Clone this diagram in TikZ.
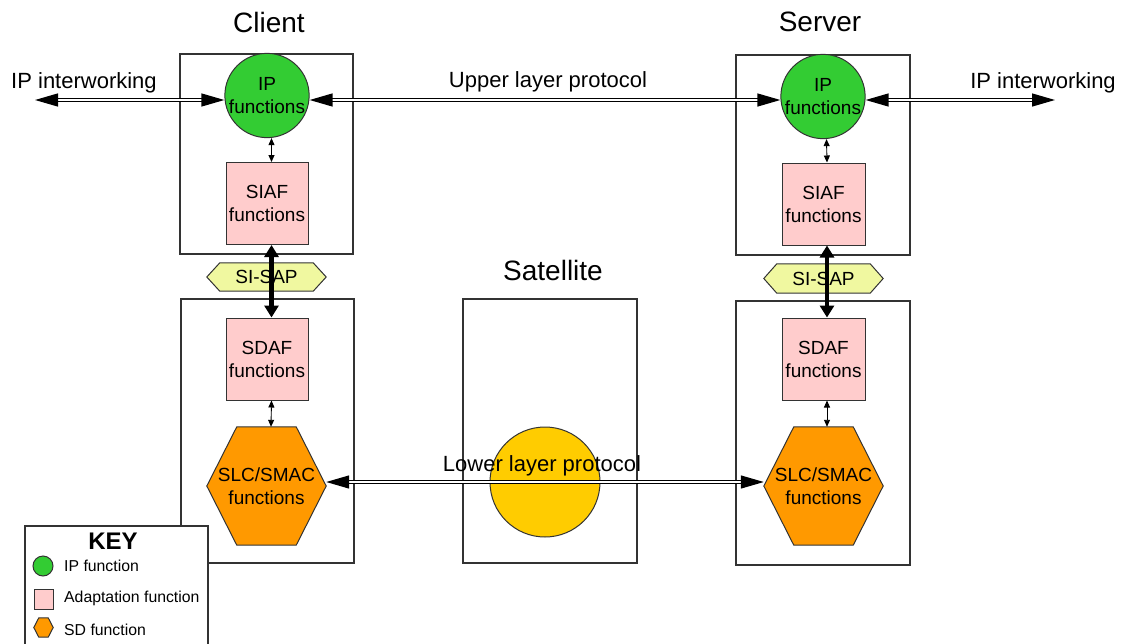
\documentclass[tikz,border=0pt]{standalone}
\usepackage{fontspec}
\setmainfont{Liberation Sans}
\usetikzlibrary{arrows.meta,calc,backgrounds}
\definecolor{ipgreen}{HTML}{33CC33}
\definecolor{adpink}{HTML}{FFCCCC}
\definecolor{sdorange}{HTML}{FF9900}
\definecolor{satyellow}{HTML}{FFCC00}
\definecolor{sapyellow}{HTML}{F0F8A0}
\definecolor{edge}{HTML}{333333}
\newcommand\nfont{\fontsize{19}{23}\selectfont}
\newcommand\lfont{\fontsize{22}{26}\selectfont}
\newcommand\tfont{\fontsize{28}{32}\selectfont}
\newcommand\kfont{\fontsize{15.8}{18}\selectfont}
% hexagon path round a named rectangle node: #1 node, #2 indent
\newcommand\hexpath[2]{(#1.west) -- ([xshift=#2pt]#1.north west) -- ([xshift=-#2pt]#1.north east)
      -- (#1.east) -- ([xshift=-#2pt]#1.south east) -- ([xshift=#2pt]#1.south west) -- cycle}
% hexagon behind a named rectangle node: #1 node, #2 indent, #3 fill
\newcommand\hexbehind[3]{%
  \begin{scope}[on background layer]
    \draw[draw=edge, line width=1pt, fill=#3] \hexpath{#1}{#2};
  \end{scope}}
\begin{document}
\begin{tikzpicture}[x=1pt,y=-1pt,
  frame/.style={draw=edge, line width=1.2pt},
  ipfn/.style={circle, draw=edge, line width=1pt, fill=ipgreen, minimum size=82pt, inner sep=0pt, align=center, font=\nfont},
  adapt/.style={rectangle, draw=edge, line width=1pt, fill=adpink, minimum width=82pt, minimum height=82pt, inner sep=0pt, align=center, font=\nfont},
  hexnode/.style={rectangle, inner sep=0pt, align=center, font=\nfont},
  dblarrow/.style={double, double distance=1.5pt, line width=1.3pt, draw=black,
     {Triangle[length=23pt,width=13pt]}-{Triangle[length=23pt,width=13pt]}},
  smallarrow/.style={line width=0.9pt, {Triangle[length=7pt,width=6pt]}-{Triangle[length=7pt,width=6pt]}},
  thickarrow/.style={line width=4.5pt, {Triangle[length=12pt,width=14pt]}-{Triangle[length=12pt,width=14pt]}},
  title/.style={font=\tfont, inner sep=0pt},
  lbl/.style={font=\lfont, inner sep=0pt},
  keytext/.style={font=\kfont, inner sep=0pt, anchor=west}
]
\useasboundingbox (0,0) rectangle (1125,643);

% frames
\draw[frame] (180,54) rectangle (353,254);
\draw[frame] (181,299) rectangle (354,563);
\draw[frame] (463,299) rectangle (637,563);
\draw[frame] (736,55) rectangle (910,255);
\draw[frame] (736,301) rectangle (910,565);

% titles
\node[title] (tClient) at (269,22) {Client};
\node[title] (tServer) at (820,22) {Server};
\node[title] (tSat) at (553,270) {Satellite};

% client
\node[ipfn] (ipC) at (267,95.5) {IP\\functions};
\node[adapt] (siafC) at (267,203.5) {SIAF\\functions};
\node[hexnode, minimum width=119pt, minimum height=28pt] (sisapC) at (266.5,277) {SI-SAP};
\hexbehind{sisapC}{13}{sapyellow}
\node[adapt] (sdafC) at (267,359) {SDAF\\functions};
\node[hexnode, minimum width=119pt, minimum height=118pt] (slcC) at (266.5,486) {SLC/SMAC\\functions};
\hexbehind{slcC}{30}{sdorange}

% server
\node[ipfn] (ipS) at (823,96.5) {IP\\functions};
\node[adapt, minimum width=83pt] (siafS) at (823.5,204) {SIAF\\functions};
\node[hexnode, minimum width=119pt, minimum height=29pt] (sisapS) at (823.5,278.5) {SI-SAP};
\hexbehind{sisapS}{13}{sapyellow}
\node[adapt, minimum width=83pt] (sdafS) at (823.5,359) {SDAF\\functions};
\node[hexnode, minimum width=119pt, minimum height=118pt] (slcS) at (823.5,486) {SLC/SMAC\\functions};
\hexbehind{slcS}{30}{sdorange}

% satellite
\node[circle, draw=edge, line width=1pt, fill=satyellow, minimum size=110pt, inner sep=0pt] (sat) at (545,482) {};

% connectors
\coordinate (iwL) at (35,100);
\coordinate (iwR) at (1055,100);
\draw[dblarrow] (iwL) -- ([yshift=-4.5pt]ipC.west);
\draw[dblarrow] ([yshift=-4.5pt]ipC.east) -- ([yshift=-3.5pt]ipS.west);
\draw[dblarrow] ([yshift=-3.5pt]ipS.east) -- (iwR);
\draw[dblarrow] ([yshift=4pt]slcC.east) -- ([yshift=4pt]slcS.west);

\draw[smallarrow] ([xshift=4.5pt]ipC.south) -- ([xshift=4.5pt]siafC.north);
\draw[smallarrow] ([xshift=4.5pt]sdafC.south) -- ([xshift=4.5pt]slcC.north);
\draw[smallarrow] ([xshift=3.5pt]ipS.south) -- ([xshift=3.5pt]siafS.north);
\draw[smallarrow] ([xshift=3.5pt]sdafS.south) -- ([xshift=3.5pt]slcS.north);

\draw[thickarrow] ([xshift=4.5pt]siafC.south) -- ([xshift=4.5pt]sdafC.north);
\draw[thickarrow] ([xshift=3.5pt]siafS.south) -- ([xshift=3.5pt]sdafS.north);

% labels
\node[lbl] (lIwL) at (84,83) {IP interworking};
\node[lbl] (lIwR) at (1043,83) {IP interworking};
\node[lbl] (lUpper) at (548,82) {Upper layer protocol};
\node[lbl] (lLower) at (542,466) {Lower layer protocol};

% key
\draw[frame, fill=white] (25,526) rectangle (208,660);
\node[font=\bfseries\fontsize{24}{28}\selectfont, inner sep=0pt] (keyT) at (113,541) {KEY};
\node[circle, draw=edge, line width=1pt, fill=ipgreen, minimum size=20pt, inner sep=0pt] (kIp) at (43,566) {};
\node[rectangle, draw=edge, line width=1pt, fill=adpink, minimum width=19pt, minimum height=20pt, inner sep=0pt] (kAd) at (43.5,599) {};
\node[hexnode, minimum width=19pt, minimum height=19pt] (kSd) at (43.5,627.5) {};
\draw[draw=edge, line width=1pt, fill=sdorange] \hexpath{kSd}{5};
\node[keytext] (kIpT) at (64,566) {IP function};
\node[keytext] (kAdT) at (64,598) {Adaptation function};
\node[keytext] (kSdT) at (64,630) {SD function};
\end{tikzpicture}
\end{document}
